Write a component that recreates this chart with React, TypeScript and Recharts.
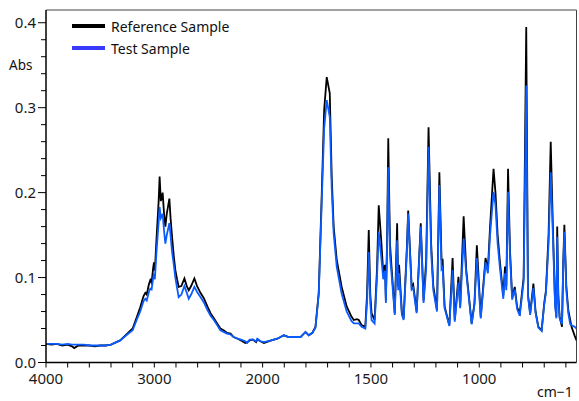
import React from 'react';
import { LineChart, Line, XAxis, YAxis, ReferenceLine, Legend } from 'recharts';

// Wavenumbers (cm-1) sampled along the spectrum
const wavenumbers = [
  4000, 3950, 3900, 3850, 3800, 3760, 3740, 3700, 3650, 3600, 3550, 3500, 3450, 3400, 3350, 3315,
  3250, 3200, 3160, 3130, 3100, 3083, 3070, 3050, 3037, 3025, 3010, 3003, 2995, 2980, 2960, 2951,
  2940, 2923, 2910, 2898, 2885, 2861, 2850, 2836, 2820, 2806, 2790, 2775, 2750, 2722, 2700, 2682,
  2660, 2630, 2605, 2574, 2544, 2510, 2481, 2450, 2420, 2390, 2361, 2330, 2296, 2268, 2230, 2200,
  2160, 2142, 2120, 2090, 2060, 2049, 2020, 1994, 1960, 1932, 1902, 1880, 1856, 1825, 1802, 1787,
  1770, 1756, 1741, 1727, 1716, 1704, 1690, 1681, 1672, 1658, 1635, 1612, 1590, 1579, 1565, 1556,
  1543, 1526, 1518, 1510, 1503, 1497, 1483, 1472, 1464, 1452, 1443, 1435, 1431, 1425, 1420, 1412,
  1405, 1390, 1379, 1374, 1370, 1357, 1349, 1334, 1328, 1312, 1305, 1289, 1270, 1257, 1245, 1234,
  1222, 1212, 1195, 1184, 1174, 1169, 1160, 1138, 1123, 1113, 1096, 1088, 1072, 1060, 1035, 1022,
  1011, 993, 971, 960, 950, 934, 925, 915, 904, 889, 881, 875, 867, 858, 848, 836,
  825, 813, 795, 783, 775, 765, 750, 740, 727, 712, 700, 692, 680, 670, 660, 650,
  644, 640, 635, 629, 618, 612, 607, 598, 589, 580, 574, 560, 551,
];

// Reference Sample absorbance (black)
const referenceAbs = [
  0.022, 0.021, 0.022, 0.020, 0.021, 0.019, 0.017, 0.020, 0.020, 0.020, 0.019, 0.020, 0.020, 0.021, 0.024, 0.026,
  0.034, 0.040, 0.054, 0.065, 0.078, 0.082, 0.080, 0.092, 0.097, 0.094, 0.112, 0.118, 0.108, 0.145, 0.190, 0.219,
  0.190, 0.200, 0.175, 0.160, 0.175, 0.193, 0.170, 0.148, 0.125, 0.109, 0.098, 0.089, 0.090, 0.099, 0.090, 0.085,
  0.090, 0.099, 0.090, 0.082, 0.076, 0.066, 0.058, 0.052, 0.046, 0.040, 0.038, 0.035, 0.034, 0.030, 0.028, 0.026,
  0.023, 0.024, 0.026, 0.027, 0.024, 0.027, 0.025, 0.023, 0.026, 0.028, 0.032, 0.030, 0.030, 0.030, 0.036, 0.032,
  0.035, 0.042, 0.082, 0.199, 0.297, 0.336, 0.317, 0.219, 0.160, 0.121, 0.089, 0.066, 0.054, 0.050, 0.051, 0.050,
  0.044, 0.042, 0.080, 0.156, 0.080, 0.058, 0.050, 0.110, 0.185, 0.142, 0.105, 0.115, 0.073, 0.150, 0.264, 0.140,
  0.113, 0.058, 0.164, 0.089, 0.115, 0.058, 0.052, 0.136, 0.179, 0.089, 0.092, 0.060, 0.164, 0.073, 0.120, 0.277,
  0.140, 0.090, 0.062, 0.224, 0.121, 0.121, 0.066, 0.044, 0.123, 0.050, 0.101, 0.066, 0.172, 0.109, 0.046, 0.070,
  0.138, 0.054, 0.123, 0.110, 0.160, 0.228, 0.200, 0.150, 0.117, 0.079, 0.113, 0.090, 0.228, 0.132, 0.077, 0.089,
  0.065, 0.058, 0.100, 0.395, 0.080, 0.058, 0.093, 0.060, 0.042, 0.038, 0.070, 0.085, 0.150, 0.260, 0.160, 0.070,
  0.054, 0.160, 0.080, 0.054, 0.042, 0.120, 0.162, 0.090, 0.062, 0.050, 0.042, 0.032, 0.026,
];

// Test Sample absorbance (blue)
const testAbs = [
  0.022, 0.022, 0.022, 0.021, 0.022, 0.021, 0.021, 0.021, 0.021, 0.020, 0.020, 0.020, 0.020, 0.021, 0.024, 0.026,
  0.033, 0.038, 0.051, 0.060, 0.072, 0.075, 0.073, 0.083, 0.087, 0.086, 0.100, 0.105, 0.098, 0.130, 0.165, 0.183,
  0.170, 0.175, 0.155, 0.140, 0.150, 0.164, 0.150, 0.130, 0.115, 0.100, 0.088, 0.077, 0.080, 0.090, 0.082, 0.075,
  0.080, 0.089, 0.083, 0.077, 0.071, 0.062, 0.055, 0.050, 0.044, 0.038, 0.036, 0.034, 0.033, 0.030, 0.028, 0.027,
  0.025, 0.023, 0.027, 0.027, 0.025, 0.028, 0.025, 0.024, 0.026, 0.028, 0.032, 0.030, 0.030, 0.030, 0.036, 0.032,
  0.035, 0.041, 0.080, 0.190, 0.275, 0.309, 0.289, 0.205, 0.152, 0.113, 0.081, 0.060, 0.049, 0.046, 0.046, 0.046,
  0.042, 0.040, 0.070, 0.130, 0.070, 0.050, 0.046, 0.100, 0.154, 0.123, 0.098, 0.108, 0.070, 0.140, 0.230, 0.125,
  0.105, 0.056, 0.144, 0.085, 0.105, 0.056, 0.050, 0.130, 0.175, 0.086, 0.088, 0.058, 0.160, 0.070, 0.110, 0.254,
  0.130, 0.085, 0.060, 0.209, 0.110, 0.112, 0.064, 0.043, 0.109, 0.048, 0.094, 0.064, 0.146, 0.105, 0.045, 0.068,
  0.123, 0.052, 0.118, 0.105, 0.150, 0.201, 0.185, 0.140, 0.110, 0.075, 0.105, 0.085, 0.201, 0.125, 0.074, 0.086,
  0.063, 0.055, 0.095, 0.326, 0.078, 0.056, 0.088, 0.058, 0.041, 0.037, 0.068, 0.082, 0.140, 0.224, 0.150, 0.068,
  0.052, 0.148, 0.075, 0.052, 0.045, 0.115, 0.154, 0.085, 0.058, 0.045, 0.044, 0.042, 0.040,
];

const seriesNames = ['Reference Sample', 'Test Sample'];

// X tick marks (cm-1): every 200 above 2000, every 100 below 2000
const xTickWavenumbers = [
  4000, 3800, 3600, 3400, 3200, 3000, 2800, 2600, 2400, 2200, 2000,
  1900, 1800, 1700, 1600, 1500, 1400, 1300, 1200, 1100, 1000, 900, 800, 700, 600,
];
const xTickLabels = [4000, 3000, 2000, 1500, 1000];

const yTicks = [0, 0.02, 0.04, 0.06, 0.08, 0.1, 0.12, 0.14, 0.16, 0.18, 0.2, 0.22, 0.24, 0.26, 0.28, 0.3, 0.32, 0.34, 0.36, 0.38, 0.4];
const yTickLabels = ['0.0', '0.1', '0.2', '0.3', '0.4'];

const X_MIN_WN = 4000;
const X_MAX_WN = 551;
const Y_MAX = 0.415;

// Spectrometer-style axis: scale doubles below 2000 cm-1
const toU = (w: number) => (w >= 2000 ? (4000 - w) / 2 : 1000 + (2000 - w));
const fromU = (u: number) => (u <= 1000 ? 4000 - 2 * u : 3000 - u);

const data = wavenumbers.map((w, i) => ({
  u: toU(w),
  ref: referenceAbs[i],
  test: testAbs[i],
}));

const FONT = '"Noto Sans", "DejaVu Sans", sans-serif';
const REF_COLOR = '#000000';
const TEST_COLOR = '#0a5cff';
const LEGEND_COLORS: Record<string, string> = { ref: '#000000', test: '#3a3aff' };

const XTick = (props: any) => {
  const { x, y, payload } = props;
  const w = Math.round(fromU(payload.value));
  if (!xTickLabels.includes(w)) return <g />;
  return (
    <text x={x} y={y} dy="0.71em" textAnchor="middle" fontSize={15} fontFamily={FONT} fill="#1a1a1a">
      {w}
    </text>
  );
};

const YTick = (props: any) => {
  const { x, y, payload } = props;
  const v = payload.value as number;
  const idx = Math.round(v * 100);
  const major = idx % 10 === 0;
  const axisX = x + 10;
  return (
    <g>
      <line x1={axisX - (major ? 8 : 5)} x2={axisX} y1={y} y2={y} stroke="#000" strokeWidth={1} />
      {major ? (
        <text x={x} y={y} dy="0.355em" textAnchor="end" fontSize={15} fontFamily={FONT} fill="#1a1a1a">
          {yTickLabels[idx / 10]}
        </text>
      ) : null}
    </g>
  );
};

const renderLegend = (props: any) => {
  const { payload } = props;
  return (
    <div style={{ fontFamily: FONT, fontSize: 14, color: '#111' }}>
      {(payload || []).map((e: any) => (
        <div key={e.value} style={{ display: 'flex', alignItems: 'center', height: 22 }}>
          <span
            style={{
              display: 'inline-block',
              width: 33,
              height: 4,
              background: LEGEND_COLORS[e.dataKey] || e.color,
              marginRight: 6,
            }}
          />
          <span>{e.value}</span>
        </div>
      ))}
    </div>
  );
};

export default function App() {
  return (
    <div style={{ position: 'absolute', left: 0, top: 0, width: 579, height: 401, background: '#fff', overflow: 'hidden' }}>
      <LineChart width={579} height={401} data={data} margin={{ top: 10, right: 2.5, left: 0, bottom: 0 }}>
        <XAxis
          dataKey="u"
          type="number"
          domain={[toU(X_MIN_WN), toU(X_MAX_WN)]}
          ticks={xTickWavenumbers.map(toU)}
          interval={0}
          height={38.5}
          tick={<XTick />}
          tickSize={5}
          tickMargin={6}
          axisLine={{ stroke: '#000', strokeWidth: 1.5 }}
          tickLine={{ stroke: '#000' }}
          allowDataOverflow
        />
        <YAxis
          type="number"
          domain={[0, Y_MAX]}
          ticks={yTicks}
          interval={0}
          width={46}
          tick={<YTick />}
          tickSize={8}
          tickMargin={2}
          tickLine={false}
          axisLine={{ stroke: '#000', strokeWidth: 1.5 }}
          allowDataOverflow
        />
        <ReferenceLine y={Y_MAX} stroke="#444" strokeWidth={1} />
        <ReferenceLine x={toU(X_MAX_WN)} stroke="#444" strokeWidth={1} />
        <Legend
          layout="horizontal"
          verticalAlign="middle"
          align="center"
          content={renderLegend}
          wrapperStyle={{ position: 'absolute', left: 72, top: 15, width: 'auto', height: 'auto' }}
        />
        <Line
          type="linear"
          dataKey="ref"
          name={seriesNames[0]}
          stroke={REF_COLOR}
          strokeWidth={1.8}
          dot={false}
          isAnimationActive={false}
        />
        <Line
          type="linear"
          dataKey="test"
          name={seriesNames[1]}
          stroke={TEST_COLOR}
          strokeWidth={1.8}
          dot={false}
          isAnimationActive={false}
        />
      </LineChart>
      <div style={{ position: 'absolute', left: 9, top: 59, fontFamily: FONT, fontSize: 13.5, lineHeight: 1, color: '#111' }}>Abs</div>
      <div style={{ position: 'absolute', left: 537, top: 385, fontFamily: FONT, fontSize: 14, lineHeight: 1, color: '#111' }}>cm−1</div>
    </div>
  );
}
